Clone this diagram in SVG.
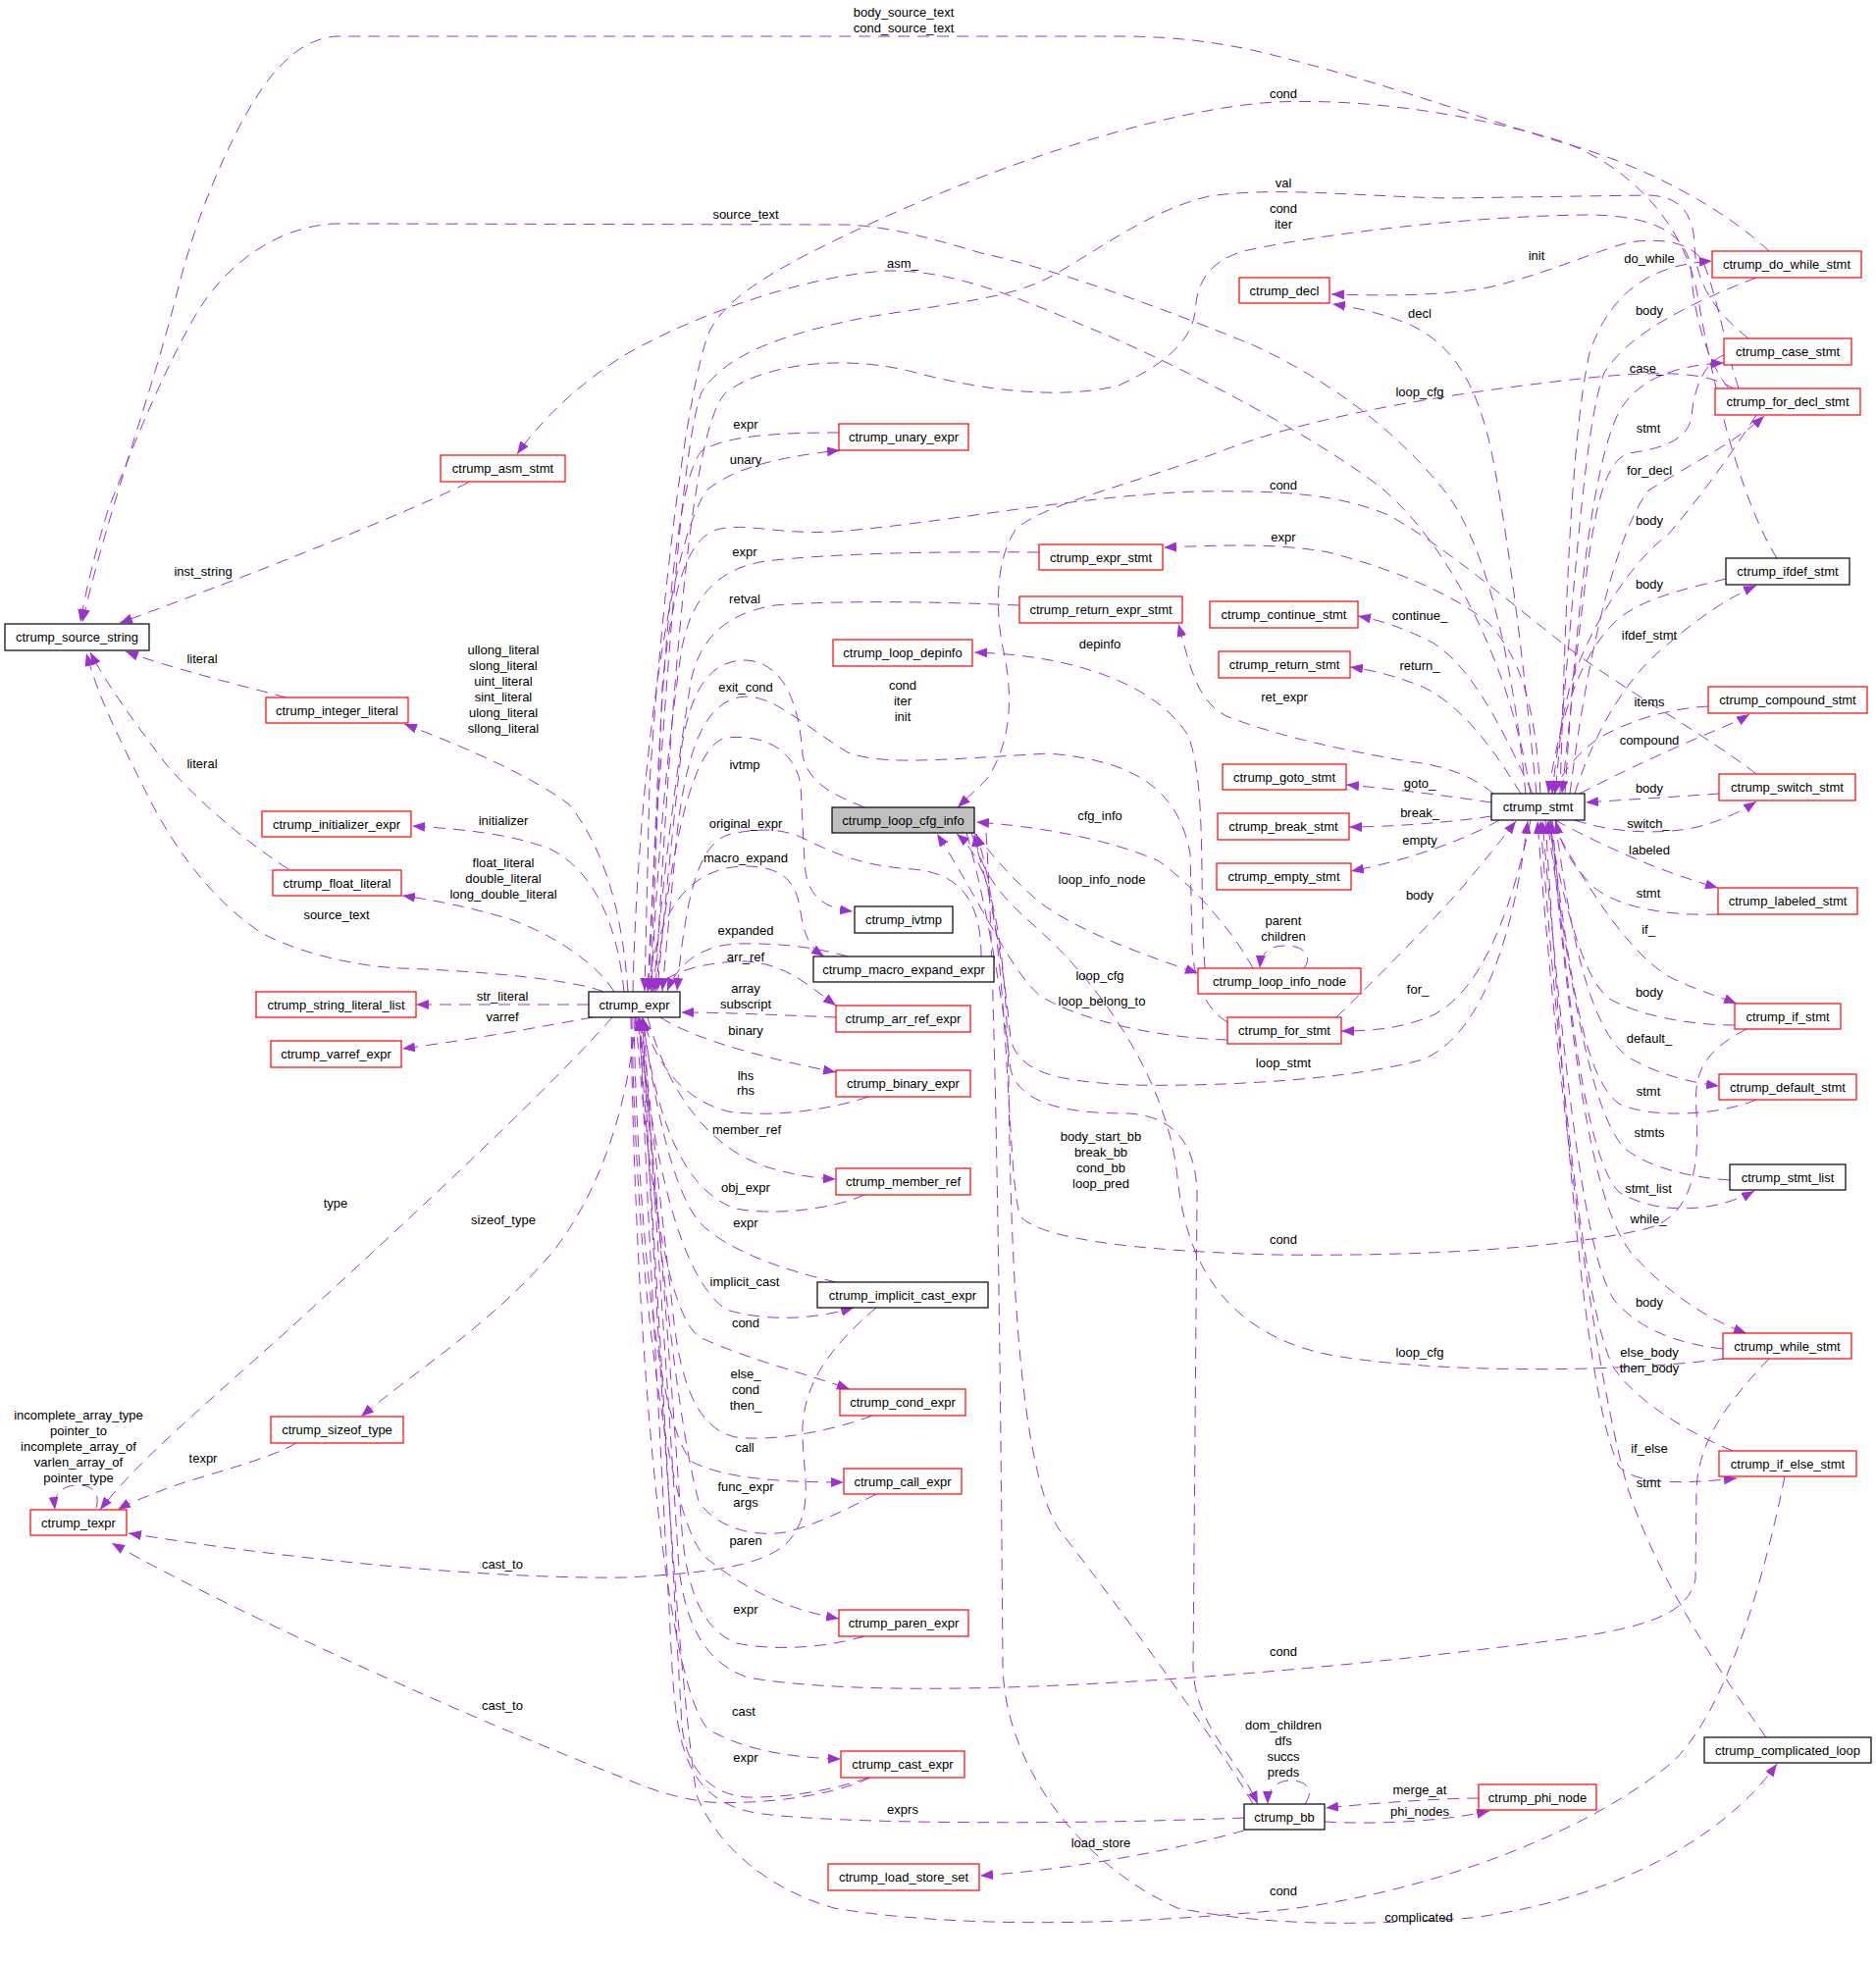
<svg xmlns="http://www.w3.org/2000/svg" width="1912" height="2000" viewBox="0 0 1912 2000">
<style>
.bg{fill:#fff}
.e{fill:none;stroke:#9a32cd;stroke-width:1;stroke-dasharray:12,8;marker-end:url(#a)}
.r{fill:#fff;stroke:#ff0000;stroke-width:1.2}
.k{fill:#fff;stroke:#000;stroke-width:1.2}
.g{fill:#bfbfbf;stroke:#000;stroke-width:1.2}
text{font-family:"Liberation Sans",Arial,sans-serif;font-size:13px;fill:#000;text-anchor:middle}
</style>
<defs>
<marker id="a" markerUnits="userSpaceOnUse" viewBox="0 0 13 10" refX="13" refY="5" markerWidth="13" markerHeight="10" orient="auto"><path d="M0,0L13,5L0,10z" fill="#9a32cd"/></marker>
</defs>
<rect class="bg" width="1912" height="2000"/>
<g id="edges">
<path class="e" d="M1803,256 C1760,215 1680,170 1598,147 C1500,118 1400,80 1272,50 C1230,42 1200,38 1150,37 L343,37 C300,40 270,80 245,127 C215,185 195,240 180,300 C155,400 110,520 84,634"/>
<path class="e" d="M1555,809 C1545,700 1520,560 1472,500 C1440,460 1380,400 1280,353 C1200,320 1080,275 1000,258 C940,240 900,230 860,229 L340,228 C280,232 230,270 200,320 C160,390 130,470 110,520 C95,570 88,600 82,634"/>
<path class="e" d="M477,492 C430,515 300,570 122,635"/>
<path class="e" d="M1560,809 C1540,680 1480,560 1411,500 C1350,450 1200,370 1100,330 C1020,295 960,275 905,276 C830,280 720,315 640,360 C590,390 550,430 527,463"/>
<path class="e" d="M292,711 C250,700 170,680 128,664"/>
<path class="e" d="M294,886 C250,858 200,815 170,780 C140,740 110,700 92,665"/>
<path class="e" d="M615,1011 C590,1000 500,990 408,987 C360,985 300,970 265,950 C220,920 180,870 150,810 C120,750 100,710 88,666"/>
<path class="e" d="M640,1011 C635,940 620,870 580,820 C540,790 470,760 412,738"/>
<path class="e" d="M636,1011 C630,950 610,890 560,865 C520,850 470,845 420,842"/>
<path class="e" d="M626,1011 C610,985 570,955 520,937 C480,925 440,917 410,913"/>
<path class="e" d="M600,1024 L424,1024"/>
<path class="e" d="M604,1037 C560,1045 480,1060 410,1069"/>
<path class="e" d="M624,1037 C560,1110 420,1240 300,1350 C200,1440 140,1490 102,1539"/>
<path class="e" d="M98,1537 C102,1524 96,1514 80,1514 C64,1514 54,1522 56,1539"/>
<path class="e" d="M302,1471 C270,1490 200,1505 163,1520 C145,1527 130,1533 120,1539"/>
<path class="e" d="M648,1037 C640,1130 610,1220 560,1280 C500,1350 420,1400 368,1444"/>
<path class="e" d="M893,1333 C850,1370 815,1410 818,1467 C820,1510 830,1545 800,1575 C770,1598 720,1603 640,1608 C500,1610 300,1590 131,1563"/>
<path class="e" d="M887,1812 C850,1830 780,1840 722,1837 C690,1833 665,1825 637,1813 C500,1760 250,1650 114,1573"/>
<path class="e" d="M1268,1853 C1100,1860 850,1860 770,1848 C700,1835 690,1780 685,1700 C675,1500 660,1250 652,1038"/>
<path class="e" d="M1268,1866 C1200,1885 1100,1905 999,1912"/>
<path class="e" d="M1507,1833 C1470,1833 1400,1838 1351,1843"/>
<path class="e" d="M1350,1857 C1400,1860 1470,1857 1518,1846"/>
<path class="e" d="M1330,1839 C1340,1825 1332,1815 1315,1815 C1300,1815 1292,1825 1292,1839"/>
<path class="e" d="M985,849 C1000,900 1020,1000 1030,1090 C1040,1130 1100,1135 1150,1135 C1200,1138 1220,1170 1220,1220 L1216,1700 C1218,1760 1260,1790 1282,1839"/>
<path class="e" d="M1277,1839 C1250,1790 1150,1650 1080,1560 C1040,1500 1030,1300 1028,1100 C1025,950 1010,880 975,850"/>
<path class="e" d="M1005,849 C1015,1000 1020,1400 1022,1700 C1025,1800 1100,1900 1200,1945 C1300,1965 1400,1962 1500,1955 C1650,1935 1760,1870 1811,1798"/>
<path class="e" d="M1811,569 C1780,520 1750,420 1730,300 C1715,220 1650,160 1578,140 C1500,118 1400,100 1300,104 C1200,110 1050,155 900,222 C800,268 740,300 722,340 C700,400 675,600 662,800 L657,1010"/>
<path class="e" d="M1782,345 C1750,320 1728,290 1727,250 C1726,215 1710,200 1680,199 L1476,202 C1380,200 1300,190 1232,200 C1170,215 1120,255 1069,283 C1030,303 980,308 885,323 C800,340 740,360 715,400 C695,450 680,700 668,850 L660,1010"/>
<path class="e" d="M1762,396 C1740,370 1726,320 1724,280 C1722,240 1690,220 1620,219 C1500,220 1350,238 1272,255 C1230,265 1220,290 1218,317 C1215,350 1180,375 1140,393 C1080,408 1000,398 926,378 C860,362 780,370 740,400 C710,430 690,600 668,1010"/>
<path class="e" d="M1772,396 C1760,360 1750,300 1735,265 C1720,245 1690,243 1660,247 C1620,258 1580,278 1517,293 C1460,303 1400,301 1357,300"/>
<path class="e" d="M1566,809 C1555,700 1540,560 1520,460 C1505,390 1480,350 1435,330 C1410,320 1385,314 1358,310"/>
<path class="e" d="M1768,397 C1740,378 1690,378 1620,385 C1500,398 1350,420 1250,458 C1150,495 1060,515 1035,540 C1015,570 1014,620 1022,660 C1034,710 1030,760 1005,795 L976,823"/>
<path class="e" d="M1570,809 C1565,720 1550,670 1517,635 C1480,605 1420,580 1354,563 C1300,553 1240,556 1186,558"/>
<path class="e" d="M1522,809 C1500,790 1470,780 1435,776 C1370,765 1300,750 1250,730 C1220,715 1213,680 1201,636"/>
<path class="e" d="M1790,789 C1740,750 1650,700 1598,660 C1540,615 1470,555 1415,525 C1360,502 1300,500 1220,501 C1100,505 950,535 850,542 C790,545 760,532 730,540 C700,550 685,600 675,700 L663,1010"/>
<path class="e" d="M1590,809 C1595,650 1600,450 1620,360 C1640,300 1680,270 1745,266"/>
<path class="e" d="M1790,283 C1720,310 1660,340 1635,380 C1615,430 1605,600 1585,809"/>
<path class="e" d="M1595,809 C1605,650 1620,480 1650,420 C1670,385 1710,372 1757,370"/>
<path class="e" d="M1757,362 C1735,370 1726,400 1724,425 C1720,450 1690,458 1660,462 C1635,470 1625,520 1615,600 C1605,680 1597,760 1592,809"/>
<path class="e" d="M1600,809 C1620,650 1650,540 1680,500 C1720,475 1770,450 1798,424"/>
<path class="e" d="M1790,423 C1760,470 1730,510 1700,545 C1660,575 1620,640 1600,700 C1590,740 1585,780 1582,809"/>
<path class="e" d="M1759,590 C1720,600 1670,610 1645,635 C1610,670 1590,730 1578,809"/>
<path class="e" d="M1605,809 C1620,760 1650,700 1690,665 C1730,630 1760,610 1790,597"/>
<path class="e" d="M1741,720 C1700,722 1660,735 1630,752 C1605,770 1590,790 1584,809"/>
<path class="e" d="M1610,809 C1650,788 1700,765 1740,748 C1760,740 1775,733 1783,728"/>
<path class="e" d="M1752,809 C1710,812 1660,815 1616,818"/>
<path class="e" d="M1605,836 C1640,848 1690,852 1730,843 C1760,835 1778,825 1790,817"/>
<path class="e" d="M1585,836 C1620,855 1680,885 1751,905"/>
<path class="e" d="M1751,932 C1700,934 1650,925 1625,905 C1600,880 1590,860 1586,837"/>
<path class="e" d="M1580,836 C1620,910 1660,970 1700,995 C1730,1010 1750,1015 1770,1023"/>
<path class="e" d="M1768,1045 C1720,1045 1670,1035 1640,1018 C1610,995 1590,900 1578,837"/>
<path class="e" d="M1585,836 C1600,950 1620,1050 1660,1078 C1690,1095 1720,1103 1752,1107"/>
<path class="e" d="M1790,1121 C1750,1138 1680,1140 1650,1125 C1615,1100 1600,1000 1580,837"/>
<path class="e" d="M1763,1203 C1720,1200 1680,1190 1655,1170 C1620,1130 1600,1000 1577,837"/>
<path class="e" d="M1582,836 C1595,1000 1615,1180 1650,1215 C1690,1240 1750,1235 1788,1214"/>
<path class="e" d="M1580,836 C1600,1050 1620,1230 1665,1280 C1700,1318 1740,1345 1780,1359"/>
<path class="e" d="M1756,1375 C1710,1370 1670,1355 1645,1325 C1615,1280 1595,1100 1572,837"/>
<path class="e" d="M1766,1479 C1720,1460 1670,1430 1645,1395 C1615,1340 1590,1100 1570,837"/>
<path class="e" d="M1575,836 C1595,1150 1615,1420 1650,1495 C1670,1515 1720,1512 1770,1507"/>
<path class="e" d="M1800,1771 C1750,1700 1690,1610 1660,1520 C1630,1420 1590,1150 1567,837"/>
<path class="e" d="M1562,809 C1530,740 1500,680 1460,655 C1430,640 1410,633 1384,628"/>
<path class="e" d="M1550,809 C1520,760 1490,720 1450,700 C1425,690 1400,683 1376,680"/>
<path class="e" d="M1520,818 C1480,812 1420,804 1372,800"/>
<path class="e" d="M1520,832 C1480,838 1420,843 1375,843"/>
<path class="e" d="M1528,836 C1490,858 1430,878 1377,888"/>
<path class="e" d="M1362,1037 C1400,1000 1450,950 1490,905 C1515,875 1535,850 1545,837"/>
<path class="e" d="M1560,836 C1540,930 1510,1010 1460,1035 C1430,1048 1400,1051 1367,1051"/>
<path class="e" d="M990,849 C1010,900 1025,1000 1030,1060 C1040,1095 1080,1102 1150,1106 C1250,1108 1380,1100 1450,1080 C1500,1060 1540,980 1557,837"/>
<path class="e" d="M1780,1049 C1740,1070 1725,1090 1729,1133 C1733,1200 1720,1240 1680,1252 C1600,1272 1450,1281 1300,1279 C1150,1275 1060,1262 1040,1240 C1025,1200 1030,950 995,850"/>
<path class="e" d="M1757,1385 C1650,1400 1450,1400 1350,1380 C1260,1360 1210,1300 1200,1200 C1190,1100 1120,1000 1050,940 C1010,905 998,880 993,850"/>
<path class="e" d="M1251,1060 C1180,1058 1100,1040 1060,1015 C1030,990 1000,920 955,850"/>
<path class="e" d="M1819,1505 C1800,1600 1760,1750 1700,1800 C1600,1880 1420,1940 1272,1950 C1100,1965 950,1962 850,1945 C780,1925 730,1880 710,1830 C690,1700 665,1300 655,1038"/>
<path class="e" d="M1803,1385 C1760,1430 1730,1470 1729,1520 L1728,1610 C1720,1645 1680,1658 1600,1670 C1450,1690 1300,1705 1171,1713 C1000,1724 850,1725 762,1710 C720,1695 700,1660 692,1600 C680,1400 665,1200 656,1038"/>
<path class="e" d="M855,441 C800,441 740,443 715,460 C695,480 680,600 670,800 L661,1010"/>
<path class="e" d="M645,1011 C650,800 680,560 720,500 C750,475 800,465 856,459"/>
<path class="e" d="M1059,563 C950,562 850,564 780,572 C730,580 705,610 695,660 C680,760 668,900 664,1010"/>
<path class="e" d="M1039,617 C950,613 850,612 790,617 C740,625 715,650 705,690 C690,780 675,900 666,1010"/>
<path class="e" d="M881,823 C850,810 825,800 818,770 C815,720 800,675 760,673 C725,673 705,700 695,760 C685,850 675,950 670,1010"/>
<path class="e" d="M668,1011 C680,900 700,760 740,752 C780,748 810,765 816,800 L820,880 C822,910 835,925 869,929"/>
<path class="e" d="M1251,1042 C1230,1030 1215,1000 1215,960 L1213,870 C1200,800 1150,775 1069,768 C950,775 900,780 864,767 C820,740 790,710 760,710 C720,712 700,760 690,850 L675,1010"/>
<path class="e" d="M1000,975 C1000,920 980,890 930,886 C880,883 850,870 820,855 C795,843 770,845 745,850 C715,858 700,900 690,1010"/>
<path class="e" d="M660,1011 C670,930 700,885 758,883 C800,883 812,900 816,930 C820,955 825,965 840,975"/>
<path class="e" d="M864,975 C830,965 790,961 750,962 C710,965 690,985 680,1010"/>
<path class="e" d="M664,1011 C680,990 720,980 760,980 C800,982 825,1005 852,1025"/>
<path class="e" d="M852,1037 C800,1035 740,1032 694,1032"/>
<path class="e" d="M673,1037 C700,1055 760,1075 852,1093"/>
<path class="e" d="M885,1118 C850,1130 790,1140 742,1133 C700,1122 670,1090 655,1038"/>
<path class="e" d="M660,1037 C680,1110 720,1170 783,1190 C810,1198 830,1201 852,1202"/>
<path class="e" d="M881,1218 C850,1232 790,1240 750,1232 C700,1215 670,1150 655,1038"/>
<path class="e" d="M852,1307 C800,1295 740,1275 712,1245 C685,1210 668,1130 655,1038"/>
<path class="e" d="M650,1037 C665,1170 690,1300 740,1335 C790,1350 840,1342 870,1333"/>
<path class="e" d="M648,1037 C660,1200 680,1340 713,1363 C760,1385 820,1400 866,1416"/>
<path class="e" d="M889,1443 C850,1458 790,1470 750,1465 C700,1455 690,1380 685,1330 C670,1200 660,1100 653,1038"/>
<path class="e" d="M646,1037 C650,1250 670,1450 705,1490 C740,1508 800,1511 860,1511"/>
<path class="e" d="M893,1523 C860,1540 830,1555 800,1562 C760,1568 725,1552 712,1530 C690,1450 670,1250 652,1038"/>
<path class="e" d="M644,1037 C648,1300 680,1560 722,1590 C760,1620 800,1640 855,1650"/>
<path class="e" d="M881,1668 C840,1680 790,1683 750,1675 C715,1660 700,1620 695,1560 C680,1350 665,1150 651,1038"/>
<path class="e" d="M643,1037 C648,1400 680,1720 722,1763 C760,1785 810,1792 857,1793"/>
<path class="e" d="M885,1812 C850,1825 800,1833 760,1832 C720,1828 700,1800 695,1760 C680,1500 665,1200 650,1038"/>
<path class="e" d="M1228,987 C1222,900 1230,800 1211,750 C1180,700 1100,668 993,665"/>
<path class="e" d="M1277,987 C1260,955 1220,905 1180,877 C1120,852 1050,842 995,838"/>
<path class="e" d="M993,849 C1010,870 1030,895 1060,920 C1100,950 1170,975 1221,992"/>
<path class="e" d="M1329,987 C1338,975 1330,964 1310,964 C1293,964 1285,972 1284,987"/>
</g>
<g id="edge-labels">
<text x="921" y="17">body_source_text</text>
<text x="921" y="33">cond_source_text</text>
<text x="1308" y="100">cond</text>
<text x="1308" y="191">val</text>
<text x="1308" y="217">cond</text>
<text x="1308" y="233">iter</text>
<text x="760" y="223">source_text</text>
<text x="1566" y="265">init</text>
<text x="1681" y="268">do_while</text>
<text x="920" y="273">asm_</text>
<text x="1447" y="324">decl</text>
<text x="1681" y="321">body</text>
<text x="1678" y="380">case_</text>
<text x="1447" y="404">loop_cfg</text>
<text x="760" y="437">expr</text>
<text x="1680" y="441">stmt</text>
<text x="760" y="473">unary</text>
<text x="1681" y="484">for_decl</text>
<text x="1308" y="499">cond</text>
<text x="1681" y="535">body</text>
<text x="1308" y="552">expr</text>
<text x="759" y="567">expr</text>
<text x="207" y="587">inst_string</text>
<text x="1681" y="600">body</text>
<text x="759" y="615">retval</text>
<text x="1447" y="632">continue_</text>
<text x="1681" y="652">ifdef_stmt</text>
<text x="1121" y="661">depinfo</text>
<text x="206" y="676">literal</text>
<text x="513" y="667">ullong_literal</text>
<text x="513" y="683">slong_literal</text>
<text x="513" y="699">uint_literal</text>
<text x="513" y="715">sint_literal</text>
<text x="513" y="731">ulong_literal</text>
<text x="513" y="747">sllong_literal</text>
<text x="1447" y="683">return_</text>
<text x="920" y="703">cond</text>
<text x="920" y="719">iter</text>
<text x="920" y="735">init</text>
<text x="760" y="705">exit_cond</text>
<text x="1309" y="715">ret_expr</text>
<text x="1681" y="720">items</text>
<text x="1681" y="759">compound</text>
<text x="206" y="783">literal</text>
<text x="759" y="784">ivtmp</text>
<text x="1447" y="803">goto_</text>
<text x="1681" y="808">body</text>
<text x="1121" y="836">cfg_info</text>
<text x="1447" y="833">break_</text>
<text x="513" y="841">initializer</text>
<text x="760" y="844">original_expr</text>
<text x="1680" y="844">switch_</text>
<text x="1447" y="861">empty</text>
<text x="1681" y="871">labeled</text>
<text x="760" y="879">macro_expand</text>
<text x="513" y="884">float_literal</text>
<text x="513" y="900">double_literal</text>
<text x="513" y="916">long_double_literal</text>
<text x="1123" y="901">loop_info_node</text>
<text x="1680" y="915">stmt</text>
<text x="1447" y="917">body</text>
<text x="343" y="937">source_text</text>
<text x="1308" y="943">parent</text>
<text x="1308" y="959">children</text>
<text x="1680" y="952">if_</text>
<text x="760" y="953">expanded</text>
<text x="760" y="980">arr_ref</text>
<text x="1121" y="999">loop_cfg</text>
<text x="760" y="1012">array</text>
<text x="760" y="1028">subscript</text>
<text x="1445" y="1013">for_</text>
<text x="1681" y="1016">body</text>
<text x="512" y="1020">str_literal</text>
<text x="1123" y="1025">loop_belong_to</text>
<text x="512" y="1041">varref</text>
<text x="760" y="1055">binary</text>
<text x="1681" y="1063">default_</text>
<text x="1308" y="1088">loop_stmt</text>
<text x="760" y="1101">lhs</text>
<text x="760" y="1116">rhs</text>
<text x="1680" y="1117">stmt</text>
<text x="761" y="1156">member_ref</text>
<text x="1681" y="1159">stmts</text>
<text x="1122" y="1163">body_start_bb</text>
<text x="1122" y="1179">break_bb</text>
<text x="1122" y="1195">cond_bb</text>
<text x="1122" y="1211">loop_pred</text>
<text x="760" y="1215">obj_expr</text>
<text x="1680" y="1216">stmt_list</text>
<text x="342" y="1231">type</text>
<text x="1680" y="1247">while_</text>
<text x="513" y="1248">sizeof_type</text>
<text x="760" y="1251">expr</text>
<text x="1308" y="1268">cond</text>
<text x="759" y="1311">implicit_cast</text>
<text x="1681" y="1332">body</text>
<text x="760" y="1353">cond</text>
<text x="1447" y="1383">loop_cfg</text>
<text x="1681" y="1383">else_body</text>
<text x="1681" y="1399">then_body</text>
<text x="760" y="1405">else_</text>
<text x="760" y="1421">cond</text>
<text x="760" y="1437">then_</text>
<text x="80" y="1447">incomplete_array_type</text>
<text x="80" y="1463">pointer_to</text>
<text x="80" y="1479">incomplete_array_of</text>
<text x="80" y="1495">varlen_array_of</text>
<text x="80" y="1511">pointer_type</text>
<text x="759" y="1480">call</text>
<text x="1681" y="1481">if_else</text>
<text x="207" y="1491">texpr</text>
<text x="1680" y="1516">stmt</text>
<text x="760" y="1520">func_expr</text>
<text x="760" y="1536">args</text>
<text x="760" y="1575">paren</text>
<text x="512" y="1599">cast_to</text>
<text x="760" y="1645">expr</text>
<text x="1308" y="1688">cond</text>
<text x="512" y="1743">cast_to</text>
<text x="758" y="1749">cast</text>
<text x="1308" y="1763">dom_children</text>
<text x="1308" y="1779">dfs</text>
<text x="1308" y="1795">succs</text>
<text x="1308" y="1811">preds</text>
<text x="760" y="1796">expr</text>
<text x="1447" y="1829">merge_at</text>
<text x="920" y="1849">exprs</text>
<text x="1447" y="1851">phi_nodes</text>
<text x="1122" y="1883">load_store</text>
<text x="1308" y="1932">cond</text>
<text x="1446" y="1959">complicated</text>
</g>
<g id="n_source_string"><rect class="k" x="5" y="636" width="147" height="27"/><text x="78.5" y="654">ctrump_source_string</text></g>
<g id="n_texpr"><rect class="r" x="31" y="1539" width="98" height="26"/><text x="80" y="1557">ctrump_texpr</text></g>
<g id="n_asm_stmt"><rect class="r" x="449" y="464" width="127" height="27"/><text x="512.5" y="482">ctrump_asm_stmt</text></g>
<g id="n_integer_literal"><rect class="r" x="271" y="711" width="145" height="26"/><text x="343.5" y="729">ctrump_integer_literal</text></g>
<g id="n_initializer_expr"><rect class="r" x="267" y="827" width="152" height="26"/><text x="343" y="845">ctrump_initializer_expr</text></g>
<g id="n_float_literal"><rect class="r" x="278" y="887" width="131" height="26"/><text x="343.5" y="905">ctrump_float_literal</text></g>
<g id="n_string_literal_list"><rect class="r" x="261" y="1011" width="163" height="26"/><text x="342.5" y="1029">ctrump_string_literal_list</text></g>
<g id="n_varref_expr"><rect class="r" x="276" y="1061" width="133" height="27"/><text x="342.5" y="1079">ctrump_varref_expr</text></g>
<g id="n_sizeof_type"><rect class="r" x="276" y="1444" width="135" height="27"/><text x="343.5" y="1462">ctrump_sizeof_type</text></g>
<g id="n_expr"><rect class="k" x="600" y="1011" width="93" height="26"/><text x="646.5" y="1029">ctrump_expr</text></g>
<g id="n_unary_expr"><rect class="r" x="855" y="432" width="132" height="27"/><text x="921" y="450">ctrump_unary_expr</text></g>
<g id="n_loop_depinfo"><rect class="r" x="849" y="652" width="142" height="27"/><text x="920" y="670">ctrump_loop_depinfo</text></g>
<g id="n_loop_cfg_info"><rect class="g" x="848" y="823" width="145" height="26"/><text x="920.5" y="841">ctrump_loop_cfg_info</text></g>
<g id="n_ivtmp"><rect class="k" x="871" y="924" width="100" height="27"/><text x="921" y="942">ctrump_ivtmp</text></g>
<g id="n_macro_expand_expr"><rect class="k" x="829" y="975" width="184" height="26"/><text x="921" y="993">ctrump_macro_expand_expr</text></g>
<g id="n_arr_ref_expr"><rect class="r" x="852" y="1025" width="137" height="27"/><text x="920.5" y="1043">ctrump_arr_ref_expr</text></g>
<g id="n_binary_expr"><rect class="r" x="852" y="1091" width="137" height="27"/><text x="920.5" y="1109">ctrump_binary_expr</text></g>
<g id="n_member_ref"><rect class="r" x="852" y="1191" width="137" height="27"/><text x="920.5" y="1209">ctrump_member_ref</text></g>
<g id="n_implicit_cast_expr"><rect class="k" x="833" y="1307" width="174" height="26"/><text x="920" y="1325">ctrump_implicit_cast_expr</text></g>
<g id="n_cond_expr"><rect class="r" x="856" y="1416" width="128" height="27"/><text x="920" y="1434">ctrump_cond_expr</text></g>
<g id="n_call_expr"><rect class="r" x="860" y="1497" width="120" height="26"/><text x="920" y="1515">ctrump_call_expr</text></g>
<g id="n_paren_expr"><rect class="r" x="855" y="1641" width="132" height="27"/><text x="921" y="1659">ctrump_paren_expr</text></g>
<g id="n_cast_expr"><rect class="r" x="857" y="1785" width="126" height="27"/><text x="920" y="1803">ctrump_cast_expr</text></g>
<g id="n_load_store_set"><rect class="r" x="844" y="1900" width="154" height="27"/><text x="921" y="1918">ctrump_load_store_set</text></g>
<g id="n_decl"><rect class="r" x="1263" y="283" width="92" height="26"/><text x="1309" y="301">ctrump_decl</text></g>
<g id="n_expr_stmt"><rect class="r" x="1059" y="555" width="126" height="26"/><text x="1122" y="573">ctrump_expr_stmt</text></g>
<g id="n_return_expr_stmt"><rect class="r" x="1039" y="608" width="166" height="27"/><text x="1122" y="626">ctrump_return_expr_stmt</text></g>
<g id="n_continue_stmt"><rect class="r" x="1233" y="613" width="151" height="27"/><text x="1308.5" y="631">ctrump_continue_stmt</text></g>
<g id="n_return_stmt"><rect class="r" x="1242" y="664" width="134" height="27"/><text x="1309" y="682">ctrump_return_stmt</text></g>
<g id="n_goto_stmt"><rect class="r" x="1246" y="779" width="126" height="26"/><text x="1309" y="797">ctrump_goto_stmt</text></g>
<g id="n_break_stmt"><rect class="r" x="1241" y="829" width="134" height="27"/><text x="1308" y="847">ctrump_break_stmt</text></g>
<g id="n_empty_stmt"><rect class="r" x="1240" y="880" width="137" height="27"/><text x="1308.5" y="898">ctrump_empty_stmt</text></g>
<g id="n_loop_info_node"><rect class="r" x="1221" y="987" width="166" height="26"/><text x="1304" y="1005">ctrump_loop_info_node</text></g>
<g id="n_for_stmt"><rect class="r" x="1251" y="1037" width="116" height="27"/><text x="1309" y="1055">ctrump_for_stmt</text></g>
<g id="n_bb"><rect class="k" x="1268" y="1839" width="82" height="26"/><text x="1309" y="1857">ctrump_bb</text></g>
<g id="n_stmt"><rect class="k" x="1520" y="809" width="95" height="27"/><text x="1567.5" y="827">ctrump_stmt</text></g>
<g id="n_phi_node"><rect class="r" x="1507" y="1819" width="120" height="26"/><text x="1567" y="1837">ctrump_phi_node</text></g>
<g id="n_do_while_stmt"><rect class="r" x="1745" y="256" width="152" height="27"/><text x="1821" y="274">ctrump_do_while_stmt</text></g>
<g id="n_case_stmt"><rect class="r" x="1757" y="345" width="130" height="27"/><text x="1822" y="363">ctrump_case_stmt</text></g>
<g id="n_for_decl_stmt"><rect class="r" x="1748" y="396" width="148" height="27"/><text x="1822" y="414">ctrump_for_decl_stmt</text></g>
<g id="n_ifdef_stmt"><rect class="k" x="1759" y="569" width="126" height="27"/><text x="1822" y="587">ctrump_ifdef_stmt</text></g>
<g id="n_compound_stmt"><rect class="r" x="1741" y="700" width="162" height="27"/><text x="1822" y="718">ctrump_compound_stmt</text></g>
<g id="n_switch_stmt"><rect class="r" x="1752" y="789" width="139" height="27"/><text x="1821.5" y="807">ctrump_switch_stmt</text></g>
<g id="n_labeled_stmt"><rect class="r" x="1751" y="905" width="142" height="27"/><text x="1822" y="923">ctrump_labeled_stmt</text></g>
<g id="n_if_stmt"><rect class="r" x="1768" y="1023" width="108" height="26"/><text x="1822" y="1041">ctrump_if_stmt</text></g>
<g id="n_default_stmt"><rect class="r" x="1752" y="1095" width="140" height="26"/><text x="1822" y="1113">ctrump_default_stmt</text></g>
<g id="n_stmt_list"><rect class="k" x="1763" y="1187" width="118" height="26"/><text x="1822" y="1205">ctrump_stmt_list</text></g>
<g id="n_while_stmt"><rect class="r" x="1756" y="1359" width="131" height="26"/><text x="1821.5" y="1377">ctrump_while_stmt</text></g>
<g id="n_if_else_stmt"><rect class="r" x="1752" y="1479" width="140" height="26"/><text x="1822" y="1497">ctrump_if_else_stmt</text></g>
<g id="n_complicated_loop"><rect class="k" x="1737" y="1771" width="170" height="26"/><text x="1822" y="1789">ctrump_complicated_loop</text></g>
</svg>
